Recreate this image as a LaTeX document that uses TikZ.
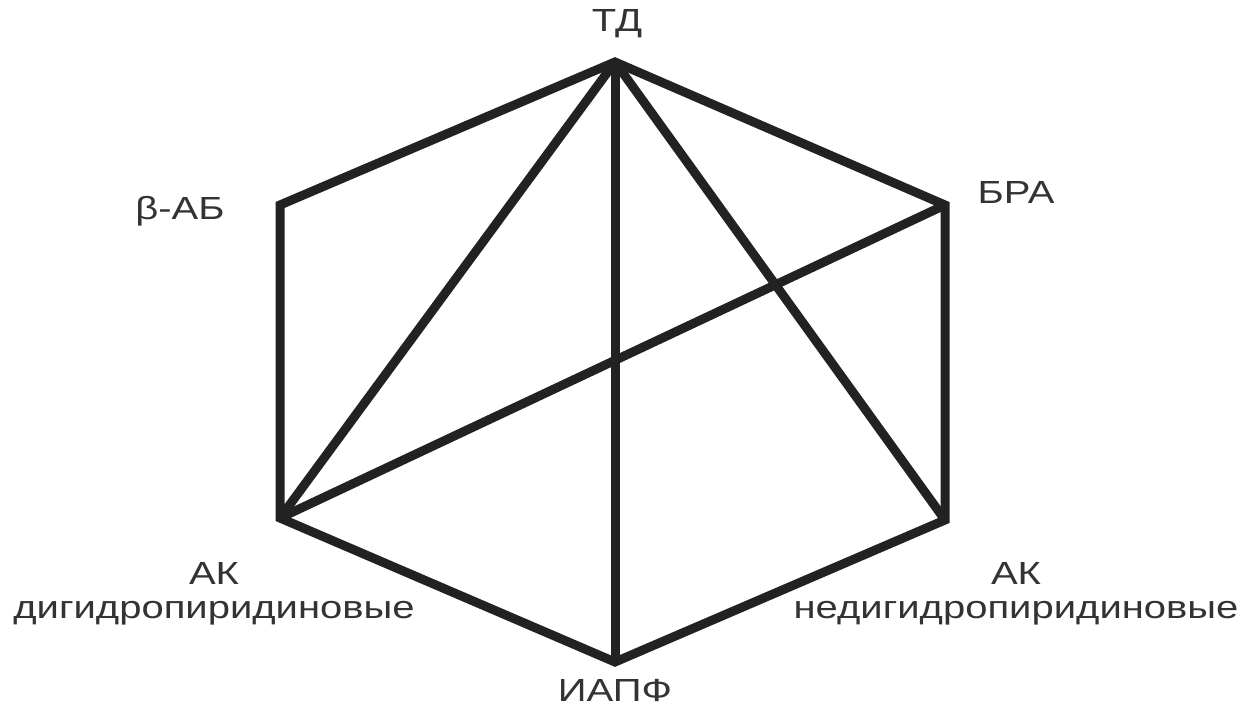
\documentclass[tikz,border=0pt]{standalone}
\usepackage{fontspec}
\setmainfont[FakeStretch=1.25]{Liberation Sans}
\definecolor{edgecol}{HTML}{222222}
\definecolor{textcol}{HTML}{333333}
\tikzset{
  edge/.style={line width=4.5pt,color=edgecol,line join=miter},
  lbl/.style={text=textcol,font=\fontsize{16}{17}\selectfont,inner sep=0pt,align=center}
}
\begin{document}
\begin{tikzpicture}[x=0.5pt,y=-0.5pt]
        \useasboundingbox (0,0) rectangle (1258,706);

        % vertices of the hexagon
        \coordinate (td) at (615,62);
        \coordinate (bra) at (945,205);
        \coordinate (akn) at (945,520);
        \coordinate (iapf) at (615,662);
        \coordinate (akd) at (280,518);
        \coordinate (bab) at (280,205);

        \draw[edge] (td) -- (bra) -- (akn) -- (iapf) -- (akd) -- (bab) -- cycle;
        \draw[edge] (td) -- (akd);
        \draw[edge] (td) -- (iapf);
        \draw[edge] (td) -- (akn);
        \draw[edge] (akd) -- (bra);

        \node[lbl] (tdlbl) at (617,24) {ТД};
        \node[lbl] (bralbl) at (1016,192) {БРА};
        \node[lbl] (bablbl) at (180,211) {β-АБ};
        \node[lbl] (akdlbl) at (214,594) {АК\\дигидропиридиновые};
        \node[lbl] (aknlbl) at (1016,594) {АК\\недигидропиридиновые};
        \node[lbl] (iapflbl) at (615,690) {ИАПФ};
    \end{tikzpicture}
\end{document}
